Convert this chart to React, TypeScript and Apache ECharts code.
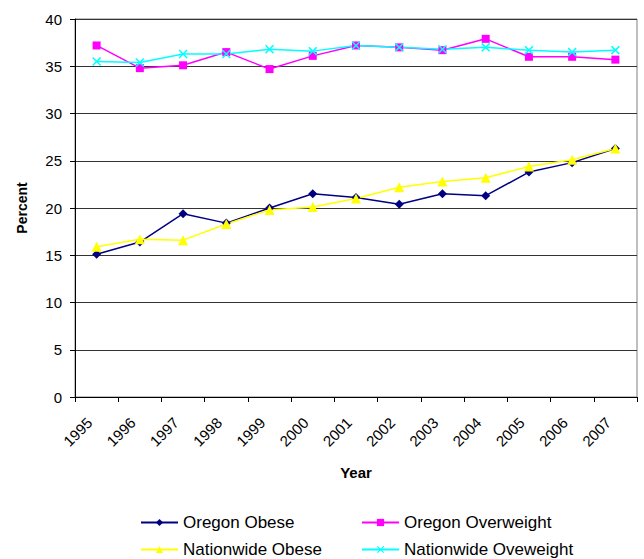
import React, { useEffect, useRef } from "react";
import * as echarts from "echarts";

const years = ["1995", "1996", "1997", "1998", "1999", "2000", "2001", "2002", "2003", "2004", "2005", "2006", "2007"];
const oregonObese = [15.1, 16.4, 19.4, 18.4, 20.0, 21.5, 21.1, 20.4, 21.5, 21.3, 23.8, 24.8, 26.3];
const nationwideObese = [15.9, 16.7, 16.6, 18.3, 19.8, 20.1, 21.0, 22.2, 22.8, 23.2, 24.4, 25.1, 26.3];
const oregonOverweight = [37.2, 34.8, 35.1, 36.5, 34.7, 36.1, 37.2, 37.0, 36.7, 37.9, 36.0, 36.0, 35.7];
const nationwideOverweight = [35.5, 35.4, 36.3, 36.3, 36.8, 36.6, 37.2, 37.0, 36.8, 37.0, 36.7, 36.5, 36.7];
const yTicks = { min: 0, max: 40, interval: 5 };

const FONT = "'Liberation Sans', Arial, sans-serif";
const CROSS = "path://M0,1.2L1.2,0L5,3.8L8.8,0L10,1.2L6.2,5L10,8.8L8.8,10L5,6.2L1.2,10L0,8.8L3.8,5Z";

export default function App() {
  const ref = useRef<HTMLDivElement>(null);
  useEffect(() => {
    if (!ref.current) return;
    const chart = echarts.init(ref.current, undefined, { renderer: "svg" });
    const mk = (name: string, data: number[], color: string, symbol: string, size: number) => ({
      name,
      type: "line",
      data,
      symbol,
      symbolSize: size,
      lineStyle: { color, width: 1.5 },
      itemStyle: { color },
      z: 3,
    });
    const legendBase = {
      itemWidth: 37,
      itemHeight: 9,
      itemGap: 4,
      padding: 0,
      textStyle: { fontFamily: FONT, fontSize: 17, color: "#000" },
    };
    chart.setOption({
      animation: false,
      backgroundColor: "#fff",
      textStyle: { fontFamily: FONT },
      grid: {
        left: 75,
        right: 7,
        top: 19,
        bottom: 162,
        containLabel: false,
        show: true,
        borderColor: "#808080",
        borderWidth: 1,
      },
      legend: [
        { ...legendBase, data: ["Oregon Obese"], left: 140, top: 514 },
        { ...legendBase, data: ["Oregon Overweight"], left: 361, top: 514 },
        { ...legendBase, data: ["Nationwide Obese"], left: 140, top: 541 },
        { ...legendBase, data: ["Nationwide Oveweight"], left: 361, top: 541 },
      ],
      xAxis: {
        type: "category",
        data: years,
        boundaryGap: true,
        name: "Year",
        nameLocation: "middle",
        nameGap: 68,
        nameTextStyle: { fontFamily: FONT, fontSize: 15, fontWeight: "bold", color: "#000" },
        axisLine: { show: true, lineStyle: { color: "#000", width: 1 } },
        axisTick: { show: true, length: 5, alignWithLabel: false, lineStyle: { color: "#000" } },
        axisLabel: {
          rotate: 45,
          fontFamily: FONT,
          fontSize: 15,
          color: "#000",
          margin: 16,
          interval: 0,
          padding: [0, 10, 0, 0],
        },
        splitLine: { show: false },
      },
      yAxis: {
        type: "value",
        min: yTicks.min,
        max: yTicks.max,
        interval: yTicks.interval,
        name: "Percent",
        nameLocation: "middle",
        nameGap: 46,
        nameRotate: 90,
        nameTextStyle: { fontFamily: FONT, fontSize: 14, fontWeight: "bold", color: "#000" },
        axisLine: { show: true, lineStyle: { color: "#000", width: 1 } },
        axisTick: { show: true, length: 5, lineStyle: { color: "#000" } },
        axisLabel: { fontFamily: FONT, fontSize: 15, color: "#000", margin: 13 },
        splitLine: { show: true, lineStyle: { color: "#333", width: 1 } },
      },
      series: [
        mk("Oregon Obese", oregonObese, "#000080", "diamond", 9),
        mk("Oregon Overweight", oregonOverweight, "#FF00FF", "rect", 8),
        mk("Nationwide Obese", nationwideObese, "#FFFF00", "triangle", 10),
        mk("Nationwide Oveweight", nationwideOverweight, "#00FFFF", CROSS, 9),
      ],
    });
    return () => chart.dispose();
  }, []);
  return <div ref={ref} style={{ width: 644, height: 559, position: "absolute", left: 0, top: 0 }} />;
}
